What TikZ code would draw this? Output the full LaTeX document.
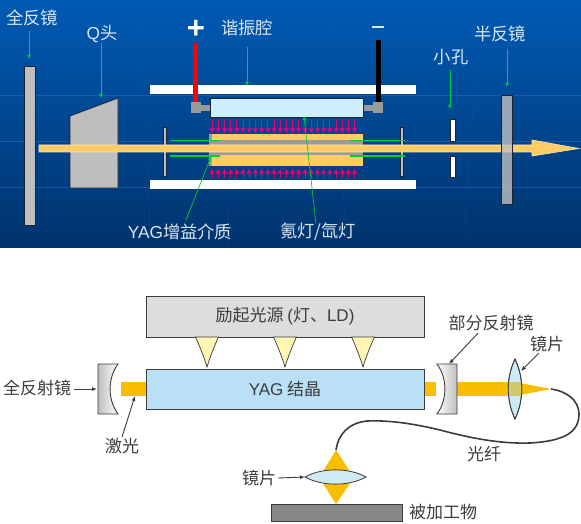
\documentclass[tikz,border=0pt]{standalone}
\usepackage{fontspec}
\setmainfont{Noto Sans CJK SC}
\newfontfamily\latinfont{Liberation Sans}
\usepackage{tikz}
\usetikzlibrary{arrows.meta,shapes.geometric,calc}
\definecolor{PanelTop}{HTML}{005AB4}
\definecolor{PanelLow}{HTML}{00336C}
\definecolor{PanelLine}{HTML}{1E6CC0}
\definecolor{Steel}{HTML}{BEBEBE}
\definecolor{Edge}{HTML}{1A2433}
\definecolor{Beam}{HTML}{FFCC66}
\definecolor{BeamEdge}{HTML}{FFE6B0}
\definecolor{Tube}{HTML}{CCEEFF}
\definecolor{Socket}{HTML}{9A9A9A}
\definecolor{Pump}{HTML}{E8006E}
\definecolor{Pointer}{HTML}{00CC33}
\definecolor{PaleText}{HTML}{DCE6F2}
\definecolor{Source}{HTML}{DCDDDD}
\definecolor{Crystal}{HTML}{B9E0F7}
\definecolor{Glow}{HTML}{FFF6B5}
\definecolor{Laser}{HTML}{FABE00}
\definecolor{Dark}{HTML}{3C3C3C}
\definecolor{Work}{HTML}{888888}
\definecolor{Lens}{HTML}{CDEAF7}
\definecolor{LensBeam}{HTML}{CFC96C}
\tikzset{
  part/.style={draw=Edge,line width=0.8pt,inner sep=0pt,outer sep=0pt},
  plain/.style={inner sep=0pt,outer sep=0pt},
  palelabel/.style={text=PaleText,font=\fontsize{17.3}{18}\selectfont,inner sep=0pt},
  darklabel/.style={text=Dark,font=\fontsize{17}{18}\selectfont,inner sep=0pt},
  greenarrow/.style={-{Latex[length=4pt,width=4pt]},line width=0.9pt,draw=Pointer},
  greenline/.style={draw=Pointer,line width=1.2pt},
  darkarrow/.style={-{Latex[length=5pt,width=4pt]},line width=0.9pt,draw=Dark},
  pumparrow/.style={-{Latex[length=5pt,width=6pt]},line width=1pt,draw=Pump},
  box/.style={draw=Dark,line width=1pt,inner sep=0pt,outer sep=0pt}
}
\begin{document}
\begin{tikzpicture}[x=1pt,y=-1pt]
  \useasboundingbox (0,0) rectangle (581,524);
  % upper panel
  \fill[top color=PanelTop,bottom color=PanelLow] (0,0) rectangle (581,247);
  \foreach \y in {95,141,187}{
    \draw[PanelLine,opacity=0.6,line width=0.6pt] (0,\y) -- (581,\y);
  }
  \foreach \x/\b in {140/150,238/228,333/345,478/465}{
    \draw[PanelLine,opacity=0.25,line width=0.5pt] (\x,0) .. controls (\x,90) and (\b,170) .. (\b,247);
  }

  \node[part,fill=Steel,minimum width=11pt,minimum height=159pt] (fullmirror) at (29.5,145.5) {};
  \draw[part,fill=Steel] (70,116) -- (118,98) -- (118,188) -- (70,188) -- cycle;

  \node[plain,fill=white,minimum width=266pt,minimum height=9pt] (upperbar) at (283,89.5) {};
  \node[plain,fill=white,minimum width=266pt,minimum height=9pt] (lowerbar) at (283,184.5) {};

  \node[plain,fill=Socket,minimum width=9pt,minimum height=6pt] (leftneck) at (205.5,108) {};
  \node[plain,fill=Socket,minimum width=10pt,minimum height=6pt] (rightneck) at (368,108) {};
  \node[plain,fill=red,minimum width=5pt,minimum height=60pt] (redlead) at (195.5,73) {};
  \node[plain,fill=black,minimum width=5pt,minimum height=63pt] (blacklead) at (378.5,71.5) {};
  \node[plain,fill=Socket,minimum width=10pt,minimum height=11pt] (leftsocket) at (196,107.5) {};
  \node[plain,fill=Socket,minimum width=10pt,minimum height=11pt] (rightsocket) at (378,107.5) {};
  \node[part,fill=Tube,minimum width=153pt,minimum height=19pt] (tube) at (286.5,107.5) {};

  % gain medium
  \node[plain,fill=Beam,minimum width=153pt,minimum height=32pt] (rod) at (286.5,150) {};
  \node[plain,fill=Socket,minimum width=153pt,minimum height=15pt] (rodcore) at (286.5,148) {};
  \node[plain,fill=Socket,minimum width=3pt,minimum height=32pt] (rodend) at (210.5,150) {};

  \foreach \x in {212,218.2,...,360}{
    \draw[pumparrow] (\x,120) -- (\x,133.5);
    \draw[pumparrow] (\x,177.5) -- (\x,168.5);
  }

  \node[part,fill=Steel,minimum width=3pt,minimum height=49pt] (leftplate) at (164.5,151.5) {};
  \node[part,fill=Steel,minimum width=3pt,minimum height=49pt] (rightplate) at (401.5,151.5) {};

  % beam
  \draw[fill=Beam,draw=BeamEdge,line width=0.6pt] (39,145) -- (532,145) -- (532,140) -- (579,148.5) -- (532,156) -- (532,152) -- (39,152) -- cycle;

  \draw[greenline] (170,140.5) -- (220,140.5);
  \draw[greenline] (170,156) -- (220,156);
  \draw[greenline] (350,140.5) -- (405,140.5);
  \draw[greenline] (350,156) -- (405,156);

  \node[part,fill=white,minimum width=5pt,minimum height=22pt] (holetop) at (452.5,130) {};
  \node[part,fill=white,minimum width=5pt,minimum height=21pt] (holelow) at (452.5,166.5) {};
  \node[part,fill=Steel,fill opacity=0.8,minimum width=11pt,minimum height=109pt] (halfmirror) at (506.5,149.5) {};

  % labels of the upper panel
  \node[palelabel] (lfull) at (32,18) {全反镜};
  \node[palelabel] (lq) at (102,34) {{\latinfont Q}头};
  \node[palelabel] (lcavity) at (247,28) {谐振腔};
  \node[palelabel] (lhole) at (451,57) {小孔};
  \node[palelabel] (lhalf) at (500,34) {半反镜};
  \node[palelabel] (lyag) at (180,232) {{\latinfont YAG}增益介质};
  \node[palelabel] (llamp) at (318,232) {氪灯/氙灯};
  \node[text=white,font=\latinfont\bfseries\fontsize{31}{31}\selectfont,inner sep=0pt] (lplus) at (196,29) {+};
  \node[plain,fill=PaleText,minimum width=12pt,minimum height=2pt] (lminus) at (378,27.5) {};

  \coordinate (fullend) at (29,59);
  \coordinate (qend) at (101,98);
  \coordinate (cavityend) at (247,86);
  \coordinate (holeend) at (450,109);
  \coordinate (halfend) at (507,87);
  \coordinate (rodpoint) at (211,157);
  \coordinate (tubepoint) at (304,116);
  \draw[greenarrow] (29,31) -- (fullend);
  \draw[greenarrow] (lq.south -| qend) -- (qend);
  \draw[greenarrow] (247,47) -- (cavityend);
  \draw[greenarrow] (450,70) -- (holeend);
  \draw[greenarrow] (507,49) -- (halfend);
  \draw[greenarrow,line width=0.7pt] (186,220) -- (rodpoint);
  \draw[greenarrow,line width=0.7pt] (316,224) -- (tubepoint);

  % lower panel
  \node[box,fill=Source,minimum width=278pt,minimum height=41pt,font=\fontsize{17}{18}\selectfont,text=Dark] (source) at (285,316.5) {励起光源 {\latinfont (}灯、{\latinfont LD)}};
  \foreach \x in {207,285,363}{
    \draw[draw=Dark,fill=Glow,line width=0.7pt] (\x-11.5,337) -- (\x+11.5,337) .. controls (\x+7,347) and (\x+3,357) .. (\x,367) .. controls (\x-3,357) and (\x-7,347) .. (\x-11.5,337) -- cycle;
  }
  \node[plain,fill=Laser,minimum width=25pt,minimum height=14pt] (beamleft) at (133.5,389) {};
  \node[plain,fill=Laser,minimum width=12pt,minimum height=14pt] (beamright) at (430,389) {};
  \node[plain,fill=Laser,minimum width=53pt,minimum height=14pt] (beamout) at (483.5,389) {};
  \fill[Laser] (520,383) -- (551,389) -- (520,395) -- cycle;
  \node[box,fill=Crystal,minimum width=278pt,minimum height=40pt,font=\fontsize{17}{18}\selectfont,text=Dark] (crystal) at (285,389) {{\latinfont YAG} 结晶};

  \draw[draw=Dark,line width=0.9pt,left color=Steel,right color=white] (98,364) -- (118,364) .. controls (107.5,378) and (107.5,400) .. (118,414) -- (98,414) -- cycle;
  \draw[draw=Dark,line width=0.9pt,left color=white,right color=Steel] (457,364) -- (437,364) .. controls (447.5,378) and (447.5,400) .. (437,414) -- (457,414) -- cycle;

  \coordinate (lensoutup) at (515,359);
  \coordinate (lensoutlow) at (515,419);
  \draw[draw=Dark,fill=Lens,line width=0.8pt] (lensoutup) .. controls (506,378) and (506,400) .. (lensoutlow) .. controls (524,400) and (524,378) .. (lensoutup) -- cycle;
  \begin{scope}
    \clip (lensoutup) .. controls (506,378) and (506,400) .. (lensoutlow) .. controls (524,400) and (524,378) .. (lensoutup) -- cycle;
    \fill[LensBeam] (505,382) rectangle (525,396);
  \end{scope}
  \draw[Dark,line width=0.8pt] (lensoutup) .. controls (506,378) and (506,400) .. (lensoutlow) .. controls (524,400) and (524,378) .. (lensoutup) -- cycle;

  \fill[Laser] (336,450) -- (351,473) -- (322,473) -- cycle;
  \fill[Laser] (322,482) -- (351,482) -- (336,504) -- cycle;
  \coordinate (lensinleft) at (305,477);
  \coordinate (lensinright) at (366,477);
  \draw[draw=Dark,fill=Lens,line width=0.8pt] (lensinleft) .. controls (322,467.5) and (349,467.5) .. (lensinright) .. controls (349,486.5) and (322,486.5) .. (lensinleft) -- cycle;
  \node[box,fill=Work,minimum width=131pt,minimum height=17pt] (work) at (336.5,512.5) {};

  % fibre
  \coordinate (fibrestart) at (551,389);
  \coordinate (fibreend) at (336,450);
  \draw[Dark,line width=1.6pt] (fibrestart) .. controls (566,391) and (579,400) .. (579,414)
    .. controls (579,432) and (565,441) .. (530,443)
    .. controls (500,444) and (470,438) .. (440,430)
    .. controls (415,424) and (390,420) .. (367,421)
    .. controls (348,423) and (338,435) .. (fibreend);

  % labels of the lower panel
  \node[darklabel] (lmirrorfull) at (37,388) {全反射镜};
  \node[darklabel] (lasertext) at (122,446) {激光};
  \node[darklabel] (lmirrorpart) at (491,323) {部分反射镜};
  \node[darklabel] (llensout) at (547,344) {镜片};
  \node[darklabel] (lfibre) at (484,454) {光纤};
  \node[darklabel] (llensin) at (259,478) {镜片};
  \node[darklabel] (lwork) at (443,512) {被加工物};

  \coordinate (mirrorpoint) at (97,389);
  \coordinate (laserpoint) at (135,396);
  \coordinate (partpoint) at (449,364);
  \coordinate (outpoint) at (521,371);
  \draw[darkarrow] (lmirrorfull.east) ++(3,1) -- (mirrorpoint);
  \draw[darkarrow] (lasertext.north) ++(0,-1) -- (laserpoint);
  \draw[darkarrow] (lmirrorpart.south) ++(-13,2) -- (partpoint);
  \draw[darkarrow] (llensout.south) ++(-8,1) -- (outpoint);
  \draw[darkarrow] (llensin.east) ++(2,0) -- (lensinleft);
\end{tikzpicture}
\end{document}
